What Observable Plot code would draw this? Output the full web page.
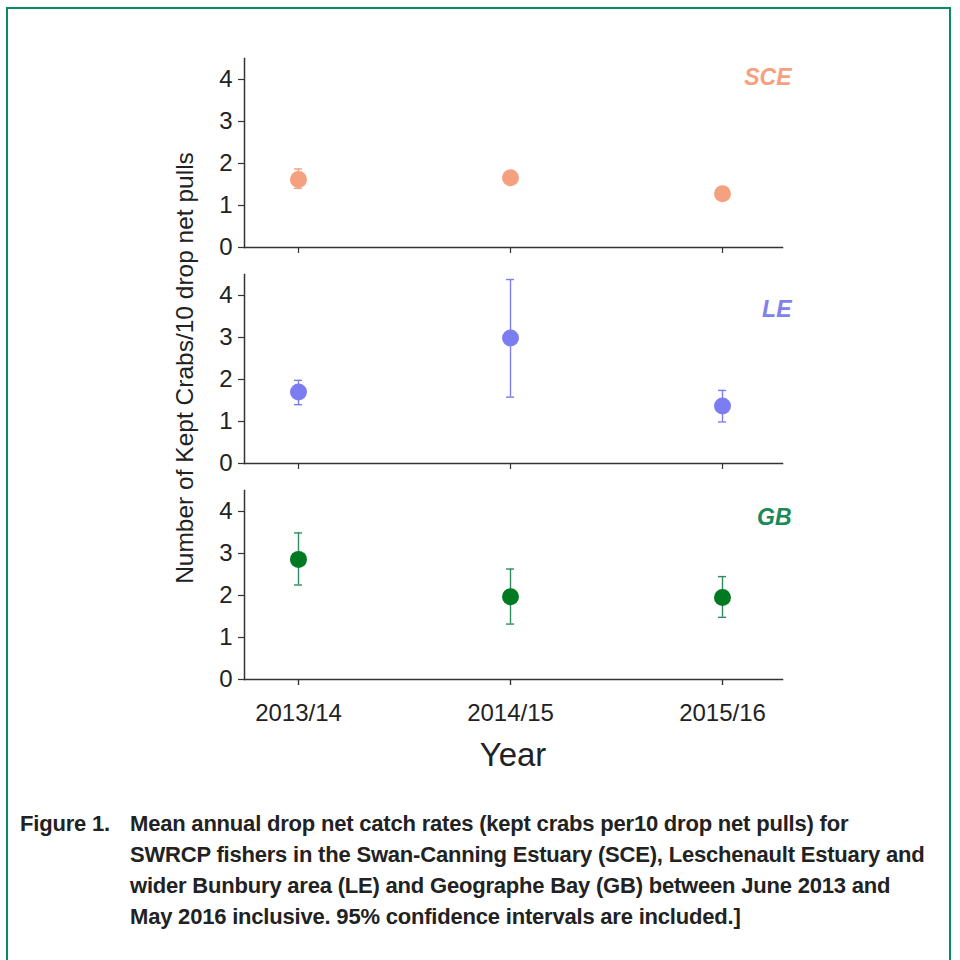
<!DOCTYPE html>
<html>
<head>
<meta charset="utf-8">
<script src="https://cdn.jsdelivr.net/npm/d3@7"></script>
<script src="https://cdn.jsdelivr.net/npm/@observablehq/plot@0.6"></script>
<style>
  html, body { margin: 0; padding: 0; background: #fff; width: 960px; height: 960px; overflow: hidden; }
  #border { position: absolute; left: 6px; top: 7px; width: 945px; height: 1000px; border: 2.5px solid #0b8a5c; box-sizing: border-box; }
  #chart { position: absolute; left: 0; top: 0; }
  #caption { position: absolute; left: 20px; top: 808px; width: 920px; display: flex;
    font-family: "Liberation Sans Narrow", "Arial Narrow", "Liberation Sans", sans-serif; font-weight: bold;
    font-size: 22px; line-height: 31px; color: #222; letter-spacing: -0.2px; }
  #caption .lab { width: 110px; flex: none; }
</style>
</head>
<body>
<div id="border"></div>
<div id="chart"></div>
<div id="caption">
  <div class="lab">Figure 1.</div>
  <div class="txt">Mean annual drop net catch rates (kept crabs per10 drop net pulls) for<br>SWRCP fishers in the Swan-Canning Estuary (SCE), Leschenault Estuary and<br>wider Bunbury area (LE) and Geographe Bay (GB) between June 2013 and<br>May 2016 inclusive. 95% confidence intervals are included.]</div>
</div>
<script>
const years = ["2013/14", "2014/15", "2015/16"];
const regions = ["SCE", "LE", "GB"];
const meanSCE = [1.62, 1.66, 1.28];
const lowSCE  = [1.41, 1.60, 1.22];
const highSCE = [1.87, 1.72, 1.34];
const meanLE  = [1.70, 2.99, 1.37];
const lowLE   = [1.40, 1.58, 0.99];
const highLE  = [1.98, 4.38, 1.74];
const meanGB  = [2.86, 1.97, 1.95];
const lowGB   = [2.25, 1.32, 1.48];
const highGB  = [3.49, 2.63, 2.45];
const yTicks = [0, 1, 2, 3, 4];

const dotColors = ["#f5a07e", "#7d7df2", "#007a22"];
const barColors = ["#f5a07e", "#7d7df2", "#2e8b62"];
const labelColors = ["#f5a07e", "#8080ee", "#1a8a5a"];
const labelDy = [19, 35, 27];

const series = {SCE: [meanSCE, lowSCE, highSCE], LE: [meanLE, lowLE, highLE], GB: [meanGB, lowGB, highGB]};
const rows = [];
regions.forEach((r, i) => years.forEach((y, j) => rows.push({
  region: r, year: y, mean: series[r][0][j], lo: series[r][1][j], hi: series[r][2][j],
  bar: barColors[i]
})));

const axisColor = "#333";
const plot = Plot.plot({
  width: 960, height: 780,
  marginLeft: 244, marginRight: 178, marginTop: 58, marginBottom: 101,
  style: { fontFamily: "'Liberation Sans', Arial, sans-serif", fontSize: "24px", color: "#222", background: "transparent" },
  x: { type: "point", domain: years, padding: 0.266, align: 0.47, label: null },
  y: { domain: [0, 4.5], label: null },
  fy: { domain: regions, paddingInner: 0.125, paddingOuter: 0, label: null, axis: null },
  color: { domain: regions, range: dotColors },
  marks: [
    Plot.frame({ anchor: "left", stroke: axisColor, strokeWidth: 1.5 }),
    Plot.frame({ anchor: "bottom", stroke: axisColor, strokeWidth: 1.5 }),
    Plot.axisY({ ticks: yTicks, tickFormat: "d", tickSize: 6, tickPadding: 6, stroke: axisColor, strokeWidth: 1.2, label: null }),
    Plot.axisX({ facetAnchor: null, tickSize: 6, tickFormat: () => "", stroke: axisColor, strokeWidth: 1.2, label: null }),
    Plot.axisX({ tickSize: 6, tickPadding: 18, stroke: axisColor, strokeWidth: 1.2, label: null }),
    Plot.ruleX(rows, { x: "year", y1: "lo", y2: "hi", fy: "region", stroke: "bar", strokeWidth: 1.4 }),
    Plot.ruleY(rows, { x1: "year", x2: "year", y: "lo", fy: "region", stroke: "bar", strokeWidth: 1.4, insetLeft: -4, insetRight: -4 }),
    Plot.ruleY(rows, { x1: "year", x2: "year", y: "hi", fy: "region", stroke: "bar", strokeWidth: 1.4, insetLeft: -4, insetRight: -4 }),
    Plot.dot(rows, { x: "year", y: "mean", fy: "region", fill: "region", r: 8.5 }),
    ...regions.map((r, i) => Plot.text([r], {
      text: d => d, fy: d => d, frameAnchor: "top-right", dx: 9, dy: labelDy[i], lineAnchor: "middle",
      fill: labelColors[i], fontStyle: "italic", fontWeight: "bold", fontSize: 23
    }))
  ]
});
document.getElementById("chart").appendChild(plot);

const svg = d3.select(plot);
const xr = plot.scale("x").range;
svg.append("text")
  .attr("transform", "translate(187,368) rotate(-90)")
  .attr("text-anchor", "middle").attr("dominant-baseline", "middle")
  .attr("font-size", 24.5).attr("fill", "#222")
  .text("Number of Kept Crabs/10 drop net pulls");
svg.append("text")
  .attr("x", (xr[0] + xr[1]) / 2).attr("y", 757)
  .attr("text-anchor", "middle").attr("dominant-baseline", "middle")
  .attr("font-size", 33).attr("fill", "#222")
  .text("Year");
</script>
</body>
</html>
